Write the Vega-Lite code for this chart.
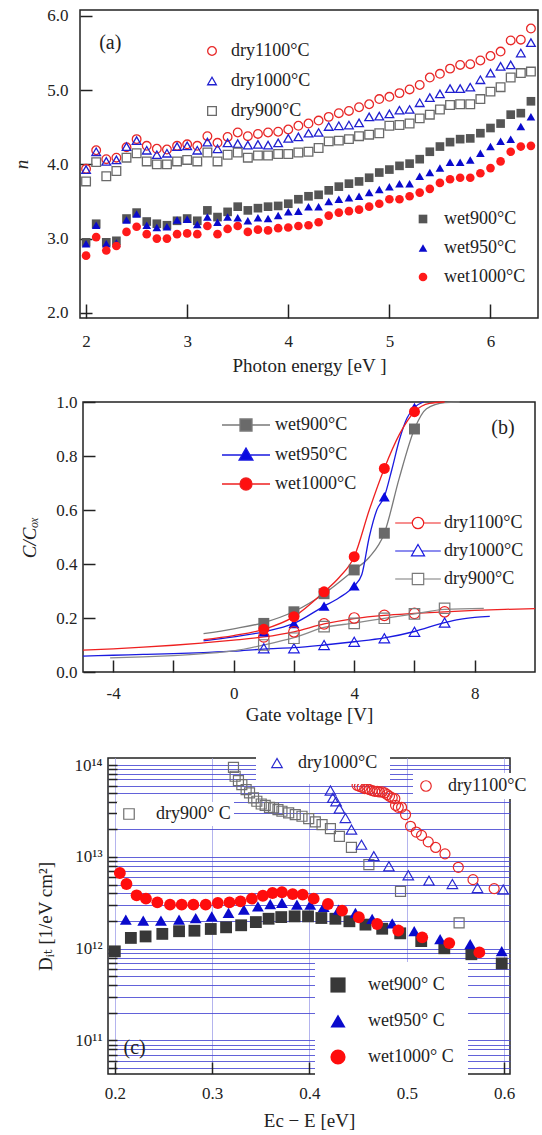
{
"$schema": "https://vega.github.io/schema/vega-lite/v6.json",
"padding": {"left": 0, "top": 6, "right": 0, "bottom": 0},
"columns": 1,
"align": "none",
"spacing": 16,
"config": {
 "font": "Liberation Serif, Times New Roman, DejaVu Serif, serif",
 "view": {"stroke": "#222222", "strokeWidth": 1.5},
 "axis": {"domain": false, "grid": false, "tickColor": "#222222", "tickWidth": 1.5, "labelColor": "#222222", "titleColor": "#222222", "labelFontSize": 17, "titleFontSize": 19, "titleFontWeight": "normal", "labelFont": "Liberation Serif, Times New Roman, DejaVu Serif, serif", "titleFont": "Liberation Serif, Times New Roman, DejaVu Serif, serif", "labelFlush": false, "labelOverlap": false},
 "legend": {"labelFont": "Liberation Serif, Times New Roman, DejaVu Serif, serif", "labelColor": "#222222", "labelFontSize": 18, "padding": 0},
 "text": {"font": "Liberation Serif, Times New Roman, DejaVu Serif, serif"}
},
"datasets": {
"a": [
{"s":"dry1100","x":2.0,"y":3.94},{"s":"dry1100","x":2.1,"y":4.19},{"s":"dry1100","x":2.2,"y":4.07},{"s":"dry1100","x":2.3,"y":4.09},{"s":"dry1100","x":2.4,"y":4.23},{"s":"dry1100","x":2.5,"y":4.34},{"s":"dry1100","x":2.6,"y":4.25},{"s":"dry1100","x":2.7,"y":4.21},{"s":"dry1100","x":2.8,"y":4.20},{"s":"dry1100","x":2.9,"y":4.25},{"s":"dry1100","x":3.0,"y":4.27},{"s":"dry1100","x":3.1,"y":4.25},{"s":"dry1100","x":3.2,"y":4.38},{"s":"dry1100","x":3.3,"y":4.29},{"s":"dry1100","x":3.4,"y":4.37},{"s":"dry1100","x":3.5,"y":4.43},{"s":"dry1100","x":3.6,"y":4.38},{"s":"dry1100","x":3.7,"y":4.41},{"s":"dry1100","x":3.8,"y":4.43},{"s":"dry1100","x":3.9,"y":4.44},{"s":"dry1100","x":4.0,"y":4.47},{"s":"dry1100","x":4.1,"y":4.52},{"s":"dry1100","x":4.2,"y":4.55},{"s":"dry1100","x":4.3,"y":4.59},{"s":"dry1100","x":4.4,"y":4.64},{"s":"dry1100","x":4.5,"y":4.69},{"s":"dry1100","x":4.6,"y":4.72},{"s":"dry1100","x":4.7,"y":4.77},{"s":"dry1100","x":4.8,"y":4.81},{"s":"dry1100","x":4.9,"y":4.88},{"s":"dry1100","x":5.0,"y":4.91},{"s":"dry1100","x":5.1,"y":4.96},{"s":"dry1100","x":5.2,"y":5.01},{"s":"dry1100","x":5.3,"y":5.07},{"s":"dry1100","x":5.4,"y":5.17},{"s":"dry1100","x":5.5,"y":5.22},{"s":"dry1100","x":5.6,"y":5.29},{"s":"dry1100","x":5.7,"y":5.34},{"s":"dry1100","x":5.8,"y":5.35},{"s":"dry1100","x":5.9,"y":5.40},{"s":"dry1100","x":6.0,"y":5.46},{"s":"dry1100","x":6.1,"y":5.52},{"s":"dry1100","x":6.2,"y":5.67},{"s":"dry1100","x":6.3,"y":5.68},{"s":"dry1100","x":6.4,"y":5.83},
{"s":"dry1000","x":2.0,"y":3.93},{"s":"dry1000","x":2.1,"y":4.17},{"s":"dry1000","x":2.2,"y":4.04},{"s":"dry1000","x":2.3,"y":4.06},{"s":"dry1000","x":2.4,"y":4.24},{"s":"dry1000","x":2.5,"y":4.32},{"s":"dry1000","x":2.6,"y":4.19},{"s":"dry1000","x":2.7,"y":4.13},{"s":"dry1000","x":2.8,"y":4.15},{"s":"dry1000","x":2.9,"y":4.24},{"s":"dry1000","x":3.0,"y":4.25},{"s":"dry1000","x":3.1,"y":4.19},{"s":"dry1000","x":3.2,"y":4.30},{"s":"dry1000","x":3.3,"y":4.21},{"s":"dry1000","x":3.4,"y":4.29},{"s":"dry1000","x":3.5,"y":4.28},{"s":"dry1000","x":3.6,"y":4.26},{"s":"dry1000","x":3.7,"y":4.27},{"s":"dry1000","x":3.8,"y":4.26},{"s":"dry1000","x":3.9,"y":4.29},{"s":"dry1000","x":4.0,"y":4.35},{"s":"dry1000","x":4.1,"y":4.37},{"s":"dry1000","x":4.2,"y":4.42},{"s":"dry1000","x":4.3,"y":4.43},{"s":"dry1000","x":4.4,"y":4.51},{"s":"dry1000","x":4.5,"y":4.52},{"s":"dry1000","x":4.6,"y":4.53},{"s":"dry1000","x":4.7,"y":4.56},{"s":"dry1000","x":4.8,"y":4.64},{"s":"dry1000","x":4.9,"y":4.65},{"s":"dry1000","x":5.0,"y":4.68},{"s":"dry1000","x":5.1,"y":4.73},{"s":"dry1000","x":5.2,"y":4.74},{"s":"dry1000","x":5.3,"y":4.83},{"s":"dry1000","x":5.4,"y":4.90},{"s":"dry1000","x":5.5,"y":4.95},{"s":"dry1000","x":5.6,"y":5.02},{"s":"dry1000","x":5.7,"y":5.02},{"s":"dry1000","x":5.8,"y":5.04},{"s":"dry1000","x":5.9,"y":5.14},{"s":"dry1000","x":6.0,"y":5.23},{"s":"dry1000","x":6.1,"y":5.32},{"s":"dry1000","x":6.2,"y":5.34},{"s":"dry1000","x":6.3,"y":5.50},{"s":"dry1000","x":6.4,"y":5.64},
{"s":"dry900","x":2.0,"y":3.77},{"s":"dry900","x":2.1,"y":4.03},{"s":"dry900","x":2.2,"y":3.84},{"s":"dry900","x":2.3,"y":3.91},{"s":"dry900","x":2.4,"y":4.09},{"s":"dry900","x":2.5,"y":4.15},{"s":"dry900","x":2.6,"y":4.04},{"s":"dry900","x":2.7,"y":4.00},{"s":"dry900","x":2.8,"y":4.00},{"s":"dry900","x":2.9,"y":4.04},{"s":"dry900","x":3.0,"y":4.06},{"s":"dry900","x":3.1,"y":4.04},{"s":"dry900","x":3.2,"y":4.16},{"s":"dry900","x":3.3,"y":4.04},{"s":"dry900","x":3.4,"y":4.13},{"s":"dry900","x":3.5,"y":4.16},{"s":"dry900","x":3.6,"y":4.09},{"s":"dry900","x":3.7,"y":4.12},{"s":"dry900","x":3.8,"y":4.12},{"s":"dry900","x":3.9,"y":4.14},{"s":"dry900","x":4.0,"y":4.14},{"s":"dry900","x":4.1,"y":4.16},{"s":"dry900","x":4.2,"y":4.17},{"s":"dry900","x":4.3,"y":4.22},{"s":"dry900","x":4.4,"y":4.31},{"s":"dry900","x":4.5,"y":4.32},{"s":"dry900","x":4.6,"y":4.34},{"s":"dry900","x":4.7,"y":4.38},{"s":"dry900","x":4.8,"y":4.40},{"s":"dry900","x":4.9,"y":4.42},{"s":"dry900","x":5.0,"y":4.52},{"s":"dry900","x":5.1,"y":4.53},{"s":"dry900","x":5.2,"y":4.55},{"s":"dry900","x":5.3,"y":4.62},{"s":"dry900","x":5.4,"y":4.67},{"s":"dry900","x":5.5,"y":4.74},{"s":"dry900","x":5.6,"y":4.80},{"s":"dry900","x":5.7,"y":4.81},{"s":"dry900","x":5.8,"y":4.81},{"s":"dry900","x":5.9,"y":4.88},{"s":"dry900","x":6.0,"y":4.98},{"s":"dry900","x":6.1,"y":5.04},{"s":"dry900","x":6.2,"y":5.17},{"s":"dry900","x":6.3,"y":5.23},{"s":"dry900","x":6.4,"y":5.25},
{"s":"wet900","x":2.0,"y":2.95},{"s":"wet900","x":2.1,"y":3.20},{"s":"wet900","x":2.2,"y":2.95},{"s":"wet900","x":2.3,"y":2.97},{"s":"wet900","x":2.4,"y":3.27},{"s":"wet900","x":2.5,"y":3.35},{"s":"wet900","x":2.6,"y":3.23},{"s":"wet900","x":2.7,"y":3.20},{"s":"wet900","x":2.8,"y":3.18},{"s":"wet900","x":2.9,"y":3.24},{"s":"wet900","x":3.0,"y":3.27},{"s":"wet900","x":3.1,"y":3.24},{"s":"wet900","x":3.2,"y":3.38},{"s":"wet900","x":3.3,"y":3.29},{"s":"wet900","x":3.4,"y":3.36},{"s":"wet900","x":3.5,"y":3.43},{"s":"wet900","x":3.6,"y":3.38},{"s":"wet900","x":3.7,"y":3.41},{"s":"wet900","x":3.8,"y":3.43},{"s":"wet900","x":3.9,"y":3.44},{"s":"wet900","x":4.0,"y":3.47},{"s":"wet900","x":4.1,"y":3.53},{"s":"wet900","x":4.2,"y":3.57},{"s":"wet900","x":4.3,"y":3.59},{"s":"wet900","x":4.4,"y":3.65},{"s":"wet900","x":4.5,"y":3.70},{"s":"wet900","x":4.6,"y":3.74},{"s":"wet900","x":4.7,"y":3.77},{"s":"wet900","x":4.8,"y":3.82},{"s":"wet900","x":4.9,"y":3.89},{"s":"wet900","x":5.0,"y":3.93},{"s":"wet900","x":5.1,"y":3.98},{"s":"wet900","x":5.2,"y":4.01},{"s":"wet900","x":5.3,"y":4.07},{"s":"wet900","x":5.4,"y":4.17},{"s":"wet900","x":5.5,"y":4.24},{"s":"wet900","x":5.6,"y":4.30},{"s":"wet900","x":5.7,"y":4.34},{"s":"wet900","x":5.8,"y":4.35},{"s":"wet900","x":5.9,"y":4.42},{"s":"wet900","x":6.0,"y":4.49},{"s":"wet900","x":6.1,"y":4.55},{"s":"wet900","x":6.2,"y":4.67},{"s":"wet900","x":6.3,"y":4.69},{"s":"wet900","x":6.4,"y":4.85},
{"s":"wet950","x":2.0,"y":2.93},{"s":"wet950","x":2.1,"y":3.18},{"s":"wet950","x":2.2,"y":2.93},{"s":"wet950","x":2.3,"y":2.94},{"s":"wet950","x":2.4,"y":3.25},{"s":"wet950","x":2.5,"y":3.33},{"s":"wet950","x":2.6,"y":3.18},{"s":"wet950","x":2.7,"y":3.15},{"s":"wet950","x":2.8,"y":3.16},{"s":"wet950","x":2.9,"y":3.25},{"s":"wet950","x":3.0,"y":3.26},{"s":"wet950","x":3.1,"y":3.19},{"s":"wet950","x":3.2,"y":3.29},{"s":"wet950","x":3.3,"y":3.22},{"s":"wet950","x":3.4,"y":3.29},{"s":"wet950","x":3.5,"y":3.28},{"s":"wet950","x":3.6,"y":3.24},{"s":"wet950","x":3.7,"y":3.28},{"s":"wet950","x":3.8,"y":3.27},{"s":"wet950","x":3.9,"y":3.31},{"s":"wet950","x":4.0,"y":3.36},{"s":"wet950","x":4.1,"y":3.37},{"s":"wet950","x":4.2,"y":3.43},{"s":"wet950","x":4.3,"y":3.43},{"s":"wet950","x":4.4,"y":3.50},{"s":"wet950","x":4.5,"y":3.53},{"s":"wet950","x":4.6,"y":3.55},{"s":"wet950","x":4.7,"y":3.57},{"s":"wet950","x":4.8,"y":3.62},{"s":"wet950","x":4.9,"y":3.66},{"s":"wet950","x":5.0,"y":3.70},{"s":"wet950","x":5.1,"y":3.74},{"s":"wet950","x":5.2,"y":3.74},{"s":"wet950","x":5.3,"y":3.84},{"s":"wet950","x":5.4,"y":3.89},{"s":"wet950","x":5.5,"y":3.95},{"s":"wet950","x":5.6,"y":4.03},{"s":"wet950","x":5.7,"y":4.03},{"s":"wet950","x":5.8,"y":4.06},{"s":"wet950","x":5.9,"y":4.15},{"s":"wet950","x":6.0,"y":4.24},{"s":"wet950","x":6.1,"y":4.31},{"s":"wet950","x":6.2,"y":4.34},{"s":"wet950","x":6.3,"y":4.51},{"s":"wet950","x":6.4,"y":4.64},
{"s":"wet1000","x":2.0,"y":2.77},{"s":"wet1000","x":2.1,"y":3.02},{"s":"wet1000","x":2.2,"y":2.84},{"s":"wet1000","x":2.3,"y":2.90},{"s":"wet1000","x":2.4,"y":3.09},{"s":"wet1000","x":2.5,"y":3.16},{"s":"wet1000","x":2.6,"y":3.06},{"s":"wet1000","x":2.7,"y":3.00},{"s":"wet1000","x":2.8,"y":3.00},{"s":"wet1000","x":2.9,"y":3.06},{"s":"wet1000","x":3.0,"y":3.07},{"s":"wet1000","x":3.1,"y":3.06},{"s":"wet1000","x":3.2,"y":3.17},{"s":"wet1000","x":3.3,"y":3.06},{"s":"wet1000","x":3.4,"y":3.13},{"s":"wet1000","x":3.5,"y":3.17},{"s":"wet1000","x":3.6,"y":3.09},{"s":"wet1000","x":3.7,"y":3.12},{"s":"wet1000","x":3.8,"y":3.11},{"s":"wet1000","x":3.9,"y":3.14},{"s":"wet1000","x":4.0,"y":3.15},{"s":"wet1000","x":4.1,"y":3.17},{"s":"wet1000","x":4.2,"y":3.18},{"s":"wet1000","x":4.3,"y":3.22},{"s":"wet1000","x":4.4,"y":3.31},{"s":"wet1000","x":4.5,"y":3.35},{"s":"wet1000","x":4.6,"y":3.37},{"s":"wet1000","x":4.7,"y":3.39},{"s":"wet1000","x":4.8,"y":3.43},{"s":"wet1000","x":4.9,"y":3.47},{"s":"wet1000","x":5.0,"y":3.53},{"s":"wet1000","x":5.1,"y":3.53},{"s":"wet1000","x":5.2,"y":3.57},{"s":"wet1000","x":5.3,"y":3.62},{"s":"wet1000","x":5.4,"y":3.67},{"s":"wet1000","x":5.5,"y":3.75},{"s":"wet1000","x":5.6,"y":3.80},{"s":"wet1000","x":5.7,"y":3.82},{"s":"wet1000","x":5.8,"y":3.82},{"s":"wet1000","x":5.9,"y":3.88},{"s":"wet1000","x":6.0,"y":3.95},{"s":"wet1000","x":6.1,"y":4.04},{"s":"wet1000","x":6.2,"y":4.17},{"s":"wet1000","x":6.3,"y":4.24},{"s":"wet1000","x":6.4,"y":4.25}
],
"bpts": [
{"s":"wet900","x":1,"y":0.18},{"s":"wet900","x":2,"y":0.223},{"s":"wet900","x":3,"y":0.29},{"s":"wet900","x":4,"y":0.378},{"s":"wet900","x":5,"y":0.514},{"s":"wet900","x":6,"y":0.90},
{"s":"wet950","x":1,"y":0.149},{"s":"wet950","x":2,"y":0.18},{"s":"wet950","x":3,"y":0.244},{"s":"wet950","x":4,"y":0.319},{"s":"wet950","x":5,"y":0.649},{"s":"wet950","x":6,"y":0.98},
{"s":"wet1000","x":1,"y":0.158},{"s":"wet1000","x":2,"y":0.205},{"s":"wet1000","x":3,"y":0.297},{"s":"wet1000","x":4,"y":0.427},{"s":"wet1000","x":5,"y":0.754},{"s":"wet1000","x":6,"y":0.964},
{"s":"dry1100","x":1,"y":0.13},{"s":"dry1100","x":2,"y":0.149},{"s":"dry1100","x":3,"y":0.178},{"s":"dry1100","x":4,"y":0.20},{"s":"dry1100","x":5,"y":0.21},{"s":"dry1100","x":6,"y":0.217},{"s":"dry1100","x":7,"y":0.223},
{"s":"dry1000","x":1,"y":0.088},{"s":"dry1000","x":2,"y":0.088},{"s":"dry1000","x":3,"y":0.10},{"s":"dry1000","x":4,"y":0.112},{"s":"dry1000","x":5,"y":0.125},{"s":"dry1000","x":6,"y":0.149},{"s":"dry1000","x":7,"y":0.183},
{"s":"dry900","x":1,"y":0.10},{"s":"dry900","x":2,"y":0.125},{"s":"dry900","x":3,"y":0.168},{"s":"dry900","x":4,"y":0.18},{"s":"dry900","x":5,"y":0.199},{"s":"dry900","x":6,"y":0.215},{"s":"dry900","x":7,"y":0.236}
],
"bcurve": [
{"s":"dry1100","x":-5,"y":0.081},{"s":"dry1100","x":-4,"y":0.086},{"s":"dry1100","x":-3,"y":0.092},{"s":"dry1100","x":-2,"y":0.099},{"s":"dry1100","x":-1,"y":0.108},{"s":"dry1100","x":0,"y":0.118},{"s":"dry1100","x":1,"y":0.13},{"s":"dry1100","x":2,"y":0.149},{"s":"dry1100","x":3,"y":0.178},{"s":"dry1100","x":4,"y":0.198},{"s":"dry1100","x":5,"y":0.21},{"s":"dry1100","x":6,"y":0.217},{"s":"dry1100","x":7,"y":0.223},{"s":"dry1100","x":8,"y":0.228},{"s":"dry1100","x":9,"y":0.232},{"s":"dry1100","x":10,"y":0.235},
{"s":"dry1000","x":-5,"y":0.059},{"s":"dry1000","x":-4,"y":0.062},{"s":"dry1000","x":-3,"y":0.065},{"s":"dry1000","x":-2,"y":0.068},{"s":"dry1000","x":-1,"y":0.072},{"s":"dry1000","x":0,"y":0.077},{"s":"dry1000","x":1,"y":0.085},{"s":"dry1000","x":2,"y":0.09},{"s":"dry1000","x":3,"y":0.10},{"s":"dry1000","x":4,"y":0.112},{"s":"dry1000","x":5,"y":0.126},{"s":"dry1000","x":6,"y":0.15},{"s":"dry1000","x":7,"y":0.183},{"s":"dry1000","x":7.5,"y":0.195},{"s":"dry1000","x":8,"y":0.202},{"s":"dry1000","x":8.5,"y":0.206},
{"s":"dry900","x":-4.1,"y":0.052},{"s":"dry900","x":-3,"y":0.056},{"s":"dry900","x":-2,"y":0.061},{"s":"dry900","x":-1,"y":0.068},{"s":"dry900","x":0,"y":0.078},{"s":"dry900","x":1,"y":0.10},{"s":"dry900","x":2,"y":0.127},{"s":"dry900","x":3,"y":0.165},{"s":"dry900","x":4,"y":0.181},{"s":"dry900","x":5,"y":0.199},{"s":"dry900","x":6,"y":0.215},{"s":"dry900","x":7,"y":0.232},{"s":"dry900","x":8.3,"y":0.236},
{"s":"wet900","x":-1,"y":0.142},{"s":"wet900","x":0,"y":0.16},{"s":"wet900","x":1,"y":0.183},{"s":"wet900","x":2,"y":0.224},{"s":"wet900","x":3,"y":0.29},{"s":"wet900","x":4,"y":0.378},{"s":"wet900","x":4.5,"y":0.425},{"s":"wet900","x":5,"y":0.514},{"s":"wet900","x":5.5,"y":0.72},{"s":"wet900","x":6,"y":0.90},{"s":"wet900","x":6.4,"y":0.975},{"s":"wet900","x":7,"y":0.998},{"s":"wet900","x":7.5,"y":1.0},
{"s":"wet950","x":-1,"y":0.115},{"s":"wet950","x":0,"y":0.13},{"s":"wet950","x":1,"y":0.149},{"s":"wet950","x":2,"y":0.18},{"s":"wet950","x":3,"y":0.244},{"s":"wet950","x":3.5,"y":0.275},{"s":"wet950","x":4,"y":0.319},{"s":"wet950","x":4.25,"y":0.36},{"s":"wet950","x":4.5,"y":0.5},{"s":"wet950","x":4.75,"y":0.6},{"s":"wet950","x":5,"y":0.649},{"s":"wet950","x":5.25,"y":0.75},{"s":"wet950","x":5.5,"y":0.86},{"s":"wet950","x":5.75,"y":0.94},{"s":"wet950","x":6,"y":0.98},{"s":"wet950","x":6.3,"y":1.0},
{"s":"wet1000","x":-1,"y":0.12},{"s":"wet1000","x":0,"y":0.135},{"s":"wet1000","x":1,"y":0.158},{"s":"wet1000","x":2,"y":0.205},{"s":"wet1000","x":3,"y":0.297},{"s":"wet1000","x":3.5,"y":0.35},{"s":"wet1000","x":4,"y":0.427},{"s":"wet1000","x":4.5,"y":0.6},{"s":"wet1000","x":5,"y":0.754},{"s":"wet1000","x":5.5,"y":0.88},{"s":"wet1000","x":6,"y":0.964},{"s":"wet1000","x":6.5,"y":0.995},{"s":"wet1000","x":7,"y":1.0}
],
"c": [
{"s":"wet900","x":0.2,"y":9.35e11},{"s":"wet900","x":0.2165,"y":1.31e12},{"s":"wet900","x":0.2316,"y":1.36e12},{"s":"wet900","x":0.2488,"y":1.45e12},{"s":"wet900","x":0.266,"y":1.55e12},{"s":"wet900","x":0.2818,"y":1.57e12},{"s":"wet900","x":0.2986,"y":1.64e12},{"s":"wet900","x":0.3143,"y":1.71e12},{"s":"wet900","x":0.3298,"y":1.80e12},{"s":"wet900","x":0.3449,"y":1.95e12},{"s":"wet900","x":0.358,"y":2.12e12},{"s":"wet900","x":0.371,"y":2.21e12},{"s":"wet900","x":0.3847,"y":2.25e12},{"s":"wet900","x":0.3985,"y":2.25e12},{"s":"wet900","x":0.4122,"y":2.16e12},{"s":"wet900","x":0.4266,"y":2.12e12},{"s":"wet900","x":0.441,"y":1.99e12},{"s":"wet900","x":0.4575,"y":1.83e12},{"s":"wet900","x":0.4747,"y":1.65e12},{"s":"wet900","x":0.4932,"y":1.47e12},{"s":"wet900","x":0.5148,"y":1.21e12},{"s":"wet900","x":0.5385,"y":1.01e12},{"s":"wet900","x":0.5663,"y":8.7e11},{"s":"wet900","x":0.5975,"y":6.9e11},
{"s":"wet950","x":0.2113,"y":2.07e12},{"s":"wet950","x":0.2292,"y":2.02e12},{"s":"wet950","x":0.2474,"y":2.02e12},{"s":"wet950","x":0.266,"y":2.07e12},{"s":"wet950","x":0.2831,"y":2.16e12},{"s":"wet950","x":0.2996,"y":2.25e12},{"s":"wet950","x":0.3168,"y":2.45e12},{"s":"wet950","x":0.3326,"y":2.66e12},{"s":"wet950","x":0.347,"y":2.90e12},{"s":"wet950","x":0.3597,"y":3.07e12},{"s":"wet950","x":0.3717,"y":3.15e12},{"s":"wet950","x":0.3871,"y":3.02e12},{"s":"wet950","x":0.4008,"y":3.02e12},{"s":"wet950","x":0.4146,"y":2.85e12},{"s":"wet950","x":0.43,"y":2.66e12},{"s":"wet950","x":0.4472,"y":2.45e12},{"s":"wet950","x":0.4644,"y":2.11e12},{"s":"wet950","x":0.485,"y":1.89e12},{"s":"wet950","x":0.5076,"y":1.55e12},{"s":"wet950","x":0.5342,"y":1.27e12},{"s":"wet950","x":0.5651,"y":1.12e12},{"s":"wet950","x":0.5975,"y":9.4e11},
{"s":"wet1000","x":0.2052,"y":6.68e12},{"s":"wet1000","x":0.212,"y":5.07e12},{"s":"wet1000","x":0.2224,"y":3.82e12},{"s":"wet1000","x":0.232,"y":3.51e12},{"s":"wet1000","x":0.2437,"y":3.20e12},{"s":"wet1000","x":0.2567,"y":3.02e12},{"s":"wet1000","x":0.2687,"y":3.02e12},{"s":"wet1000","x":0.2807,"y":3.02e12},{"s":"wet1000","x":0.2934,"y":3.02e12},{"s":"wet1000","x":0.3058,"y":3.15e12},{"s":"wet1000","x":0.3178,"y":3.20e12},{"s":"wet1000","x":0.3291,"y":3.28e12},{"s":"wet1000","x":0.3408,"y":3.51e12},{"s":"wet1000","x":0.3521,"y":3.78e12},{"s":"wet1000","x":0.362,"y":4.05e12},{"s":"wet1000","x":0.3717,"y":4.12e12},{"s":"wet1000","x":0.3827,"y":3.94e12},{"s":"wet1000","x":0.393,"y":3.88e12},{"s":"wet1000","x":0.4043,"y":3.51e12},{"s":"wet1000","x":0.419,"y":3.07e12},{"s":"wet1000","x":0.4335,"y":2.60e12},{"s":"wet1000","x":0.4507,"y":2.20e12},{"s":"wet1000","x":0.4695,"y":1.86e12},{"s":"wet1000","x":0.4912,"y":1.58e12},{"s":"wet1000","x":0.5158,"y":1.33e12},{"s":"wet1000","x":0.5436,"y":1.15e12},{"s":"wet1000","x":0.5745,"y":9.1e11},
{"s":"dry900","x":0.3219,"y":9.5e13},{"s":"dry900","x":0.3236,"y":7.59e13},{"s":"dry900","x":0.327,"y":6.81e13},{"s":"dry900","x":0.3305,"y":6.15e13},{"s":"dry900","x":0.3349,"y":5.43e13},{"s":"dry900","x":0.3384,"y":4.99e13},{"s":"dry900","x":0.3425,"y":4.41e13},{"s":"dry900","x":0.3459,"y":4.05e13},{"s":"dry900","x":0.3504,"y":3.78e13},{"s":"dry900","x":0.3545,"y":3.66e13},{"s":"dry900","x":0.3589,"y":3.48e13},{"s":"dry900","x":0.3631,"y":3.43e13},{"s":"dry900","x":0.3676,"y":3.28e13},{"s":"dry900","x":0.3717,"y":3.15e13},{"s":"dry900","x":0.3786,"y":3.02e13},{"s":"dry900","x":0.3854,"y":2.90e13},{"s":"dry900","x":0.3923,"y":2.78e13},{"s":"dry900","x":0.3992,"y":2.62e13},{"s":"dry900","x":0.406,"y":2.41e13},{"s":"dry900","x":0.4129,"y":2.25e13},{"s":"dry900","x":0.4215,"y":2.04e13},{"s":"dry900","x":0.4307,"y":1.68e13},{"s":"dry900","x":0.4431,"y":1.27e13},{"s":"dry900","x":0.461,"y":8.24e12},{"s":"dry900","x":0.4935,"y":4.22e12},{"s":"dry900","x":0.5537,"y":1.91e12},
{"s":"dry1000","x":0.4215,"y":5.30e13},{"s":"dry1000","x":0.4239,"y":4.41e13},{"s":"dry1000","x":0.4273,"y":4.05e13},{"s":"dry1000","x":0.4307,"y":3.37e13},{"s":"dry1000","x":0.4369,"y":2.66e13},{"s":"dry1000","x":0.4431,"y":1.99e13},{"s":"dry1000","x":0.4534,"y":1.36e13},{"s":"dry1000","x":0.4661,"y":1.02e13},{"s":"dry1000","x":0.4816,"y":7.91e12},{"s":"dry1000","x":0.5015,"y":6.31e12},{"s":"dry1000","x":0.5228,"y":5.52e12},{"s":"dry1000","x":0.5468,"y":5.07e12},{"s":"dry1000","x":0.5726,"y":4.59e12},{"s":"dry1000","x":0.599,"y":4.41e12},
{"s":"dry1100","x":0.4489,"y":6.05e13},{"s":"dry1100","x":0.4513,"y":5.90e13},{"s":"dry1100","x":0.4541,"y":5.75e13},{"s":"dry1100","x":0.4568,"y":5.56e13},{"s":"dry1100","x":0.4592,"y":5.56e13},{"s":"dry1100","x":0.4616,"y":5.43e13},{"s":"dry1100","x":0.4644,"y":5.30e13},{"s":"dry1100","x":0.4671,"y":5.20e13},{"s":"dry1100","x":0.4695,"y":5.20e13},{"s":"dry1100","x":0.4719,"y":5.12e13},{"s":"dry1100","x":0.4747,"y":5.12e13},{"s":"dry1100","x":0.4774,"y":4.99e13},{"s":"dry1100","x":0.4798,"y":4.79e13},{"s":"dry1100","x":0.4822,"y":4.59e13},{"s":"dry1100","x":0.485,"y":4.41e13},{"s":"dry1100","x":0.4877,"y":4.33e13},{"s":"dry1100","x":0.4884,"y":3.66e13},{"s":"dry1100","x":0.4912,"y":3.48e13},{"s":"dry1100","x":0.4946,"y":3.48e13},{"s":"dry1100","x":0.4987,"y":2.90e13},{"s":"dry1100","x":0.5038,"y":2.16e13},{"s":"dry1100","x":0.5097,"y":1.87e13},{"s":"dry1100","x":0.5151,"y":1.72e13},{"s":"dry1100","x":0.522,"y":1.46e13},{"s":"dry1100","x":0.5296,"y":1.27e13},{"s":"dry1100","x":0.5392,"y":1.08e13},{"s":"dry1100","x":0.5529,"y":7.71e12},{"s":"dry1100","x":0.568,"y":5.66e12},{"s":"dry1100","x":0.5897,"y":4.52e12}
]
},
"concat": [
{"spacing": 0, "hconcat": [
{"width": 12, "height": 10, "data": {"values": [{}]}, "mark": {"type": "point", "opacity": 0}, "encoding": {}, "view": {"stroke": null}},
{
 "width": 458, "height": 308,
 "layer": [
  {
   "data": {"name": "a"},
   "transform": [{"filter": "indexof(datum.s, 'dry') == 0"}],
   "mark": {"type": "point", "filled": false, "size": 75, "strokeWidth": 1.3, "opacity": 1},
   "encoding": {
    "x": {"field": "x", "type": "quantitative", "scale": {"domain": [1.94, 6.47], "nice": false, "zero": false},
          "axis": {"values": [2,3,4,5,6], "labelExpr": "'' + datum.value", "title": "Photon energy [eV ]", "tickSize": -14, "labelPadding": 29, "titlePadding": 7}},
    "y": {"field": "y", "type": "quantitative", "scale": {"domain": [1.93, 6.08], "nice": false, "zero": false},
          "axis": {"values": [2,2.5,3,3.5,4,4.5,5,5.5,6], "labelExpr": "datum.value % 1 == 0 ? format(datum.value, '.1f') : ''", "title": "n", "titleFontStyle": "italic", "tickSize": -12, "labelPadding": 24, "titlePadding": 15}},
    "color": {"field": "s", "type": "nominal", "scale": {"domain": ["dry1100","dry1000","dry900"], "range": ["#e82828","#2020d0","#6a6a6a"]},
          "legend": {"orient": "none", "legendX": 123, "legendY": 32, "title": null, "rowPadding": 12, "labelOffset": 10, "symbolSize": 75, "symbolStrokeWidth": 1.3, "labelExpr": "datum.label + '°C'"}},
    "shape": {"field": "s", "type": "nominal", "scale": {"domain": ["dry1100","dry1000","dry900"], "range": ["circle","triangle-up","square"]},
          "legend": {"orient": "none", "legendX": 123, "legendY": 32, "title": null, "rowPadding": 12, "labelOffset": 10, "symbolSize": 75, "symbolStrokeWidth": 1.3, "labelExpr": "datum.label + '°C'"}}
   }
  },
  {
   "data": {"name": "a"},
   "transform": [{"filter": "indexof(datum.s, 'wet') == 0"}],
   "mark": {"type": "point", "filled": true, "size": 75, "opacity": 1},
   "encoding": {
    "x": {"field": "x", "type": "quantitative"},
    "y": {"field": "y", "type": "quantitative"},
    "color": {"field": "s", "type": "nominal", "scale": {"domain": ["wet900","wet950","wet1000"], "range": ["#555555","#0a0acc","#ff1a1a"]},
          "legend": {"orient": "none", "legendX": 334, "legendY": 200, "title": null, "rowPadding": 11, "labelOffset": 12, "symbolSize": 75, "labelExpr": "datum.label + '°C'"}},
    "shape": {"field": "s", "type": "nominal", "scale": {"domain": ["wet900","wet950","wet1000"], "range": ["square","triangle-up","circle"]},
          "legend": {"orient": "none", "legendX": 334, "legendY": 200, "title": null, "rowPadding": 11, "labelOffset": 12, "symbolSize": 75, "labelExpr": "datum.label + '°C'"}}
   }
  },
  {
   "data": {"values": [{}]},
   "mark": {"type": "text", "fontSize": 20, "align": "left", "baseline": "middle", "color": "#222222"},
   "encoding": {"x": {"datum": 2.13}, "y": {"datum": 5.64}, "text": {"value": "(a)"}}
  }
 ],
 "resolve": {"scale": {"color": "independent", "shape": "independent"}}
}
]},
{"spacing": 0, "hconcat": [
{"width": 20, "height": 10, "data": {"values": [{}]}, "mark": {"type": "point", "opacity": 0}, "encoding": {}, "view": {"stroke": null}},
{
 "width": 452, "height": 270,
 "layer": [
  {
   "data": {"name": "bcurve"},
   "mark": {"type": "line", "interpolate": "monotone", "strokeWidth": 1.3},
   "encoding": {
    "x": {"field": "x", "type": "quantitative", "scale": {"domain": [-5, 10], "nice": false, "zero": false},
          "axis": {"values": [-4,-2,0,2,4,6,8], "labelExpr": "datum.value % 4 == 0 ? '' + datum.value : ''", "title": "Gate voltage [V]", "tickSize": -12, "labelPadding": 25, "titlePadding": 4}},
    "y": {"field": "y", "type": "quantitative", "scale": {"domain": [0, 1], "nice": false},
          "axis": {"values": [0,0.2,0.4,0.6,0.8,1.0], "labelExpr": "format(datum.value, '.1f')", "title": "C/Cₒₓ", "titleFontStyle": "italic", "tickSize": -12, "labelPadding": 18, "titlePadding": 16}},
    "color": {"field": "s", "type": "nominal", "scale": {"domain": ["wet900","wet950","wet1000","dry1100","dry1000","dry900"], "range": ["#7a7a7a","#1a1ae0","#ee2020","#ee2020","#1a1ae0","#8a8a8a"]}, "legend": null},
    "detail": {"field": "s"}
   }
  },
  {
   "data": {"name": "bpts"},
   "transform": [{"filter": "indexof(datum.s, 'wet') == 0"}],
   "mark": {"type": "point", "filled": true, "size": 120, "opacity": 1},
   "encoding": {
    "x": {"field": "x", "type": "quantitative"},
    "y": {"field": "y", "type": "quantitative"},
    "color": {"field": "s", "type": "nominal", "scale": {"domain": ["wet900","wet950","wet1000"], "range": ["#6a6a6a","#0a0ae0","#ff1010"]}, "legend": null},
    "shape": {"field": "s", "type": "nominal", "scale": {"domain": ["wet900","wet950","wet1000"], "range": ["square","triangle-up","circle"]}, "legend": null}
   }
  },
  {
   "data": {"name": "bpts"},
   "transform": [{"filter": "indexof(datum.s, 'dry') == 0"}],
   "mark": {"type": "point", "filled": false, "size": 110, "strokeWidth": 1.2, "opacity": 1},
   "encoding": {
    "x": {"field": "x", "type": "quantitative"},
    "y": {"field": "y", "type": "quantitative"},
    "color": {"field": "s", "type": "nominal", "scale": {"domain": ["dry1100","dry1000","dry900"], "range": ["#ee2020","#1a1ae0","#7a7a7a"]}, "legend": null},
    "shape": {"field": "s", "type": "nominal", "scale": {"domain": ["dry1100","dry1000","dry900"], "range": ["circle","triangle-up","square"]}, "legend": null}
   }
  },
  {
   "data": {"name": "bpts"},
   "transform": [{"filter": "false"}],
   "mark": {"type": "point", "filled": true, "size": 144, "opacity": 1},
   "encoding": {
    "x": {"field": "x", "type": "quantitative"},
    "y": {"field": "y", "type": "quantitative"},
    "fill": {"field": "s", "type": "nominal", "scale": {"domain": ["wet900","wet950","wet1000"], "range": ["#6a6a6a","#0a0ae0","#ff1010"]},
       "legend": {"orient": "none", "legendX": 154, "legendY": 14, "title": null, "rowPadding": 11, "labelOffset": 20, "symbolSize": 144, "symbolStrokeWidth": 1.3, "labelExpr": "datum.label + '°C'"}},
    "stroke": {"field": "s", "type": "nominal", "scale": {"domain": ["wet900","wet950","wet1000"], "range": ["#7a7a7a","#1a1ae0","#ee2020"]},
       "legend": {"orient": "none", "legendX": 154, "legendY": 14, "title": null, "rowPadding": 11, "labelOffset": 20, "symbolSize": 144, "symbolStrokeWidth": 1.3, "labelExpr": "datum.label + '°C'"}},
    "shape": {"field": "s", "type": "nominal", "scale": {"domain": ["wet900","wet950","wet1000"], "range": ["M-4,0H-1M1,0H4M-1,-1H1V1H-1Z","M-4,0H-0.7M0.7,0H4M0,-1.15L1.15,0.85H-1.15Z","M-4,0H-1M1,0H4M-1,0A1,1 0 1,0 1,0A1,1 0 1,0 -1,0Z"]},
       "legend": {"orient": "none", "legendX": 154, "legendY": 14, "title": null, "rowPadding": 11, "labelOffset": 20, "symbolSize": 144, "symbolStrokeWidth": 1.3, "labelExpr": "datum.label + '°C'"}}
   }
  },
  {
   "data": {"name": "bpts"},
   "transform": [{"filter": "false"}],
   "mark": {"type": "point", "filled": false, "size": 130, "opacity": 1},
   "encoding": {
    "x": {"field": "x", "type": "quantitative"},
    "y": {"field": "y", "type": "quantitative"},
    "color": {"field": "s", "type": "nominal", "scale": {"domain": ["dry1100","dry1000","dry900"], "range": ["#ee2020","#1a1ae0","#7a7a7a"]},
       "legend": {"orient": "none", "legendX": 326, "legendY": 112, "title": null, "rowPadding": 10, "labelOffset": 17, "symbolSize": 130, "symbolStrokeWidth": 1.2, "labelExpr": "datum.label + '°C'"}},
    "shape": {"field": "s", "type": "nominal", "scale": {"domain": ["dry1100","dry1000","dry900"], "range": ["M-4,0H-1M1,0H4M-1,0A1,1 0 1,0 1,0A1,1 0 1,0 -1,0Z","M-4,0H-0.7M0.7,0H4M0,-1.15L1.15,0.85H-1.15Z","M-4,0H-1M1,0H4M-1,-1H1V1H-1Z"]},
       "legend": {"orient": "none", "legendX": 326, "legendY": 112, "title": null, "rowPadding": 10, "labelOffset": 17, "symbolSize": 130, "symbolStrokeWidth": 1.2, "labelExpr": "datum.label + '°C'"}}
   }
  },
  {
   "data": {"values": [{}]},
   "mark": {"type": "text", "fontSize": 20, "align": "left", "baseline": "middle", "color": "#222222"},
   "encoding": {"x": {"datum": 8.55}, "y": {"datum": 0.905}, "text": {"value": "(b)"}}
  }
 ],
 "resolve": {"scale": {"color": "independent", "shape": "independent", "fill": "independent", "stroke": "independent"}}
}
]},
{"spacing": 0, "hconcat": [
{"width": 36, "height": 10, "data": {"values": [{}]}, "mark": {"type": "point", "opacity": 0}, "encoding": {}, "view": {"stroke": null}},
{
 "width": 402, "height": 316,
 "layer": [
  {
   "data": {"name": "c"},
   "transform": [{"filter": "indexof(datum.s, 'wet') == 0"}],
   "mark": {"type": "point", "filled": true, "size": 140, "opacity": 1},
   "encoding": {
    "x": {"field": "x", "type": "quantitative", "scale": {"domain": [0.193, 0.606], "nice": false, "zero": false},
          "axis": {"values": [0.2,0.3,0.4,0.5,0.6], "labelExpr": "format(datum.value, '.1f')", "title": "Ec − E [eV]", "grid": true, "gridColor": "#b4b4ee", "gridWidth": 1, "tickSize": -12, "labelPadding": 23, "titlePadding": 10}},
    "y": {"field": "y", "type": "quantitative", "scale": {"type": "log", "domain": [4.3e10, 1.2e14], "nice": false},
          "axis": {"values": [5e10,6e10,7e10,8e10,9e10,1e11,2e11,3e11,4e11,5e11,6e11,7e11,8e11,9e11,1e12,2e12,3e12,4e12,5e12,6e12,7e12,8e12,9e12,1e13,2e13,3e13,4e13,5e13,6e13,7e13,8e13,9e13,1e14],
                   "labelExpr": "datum.value == 1e11 ? '10¹¹' : datum.value == 1e12 ? '10¹²' : datum.value == 1e13 ? '10¹³' : datum.value == 1e14 ? '10¹⁴' : ''",
                   "title": "Dᵢₜ [1/eV cm²]", "grid": true, "gridColor": "#4646d2", "gridOpacity": 0.85, "gridWidth": 1, "tickSize": -9, "labelPadding": 15, "titlePadding": 18}},
    "color": {"field": "s", "type": "nominal", "scale": {"domain": ["wet900","wet950","wet1000"], "range": ["#383838","#0a0acc","#ff0d0d"]},
          "legend": {"orient": "none", "legendX": 207, "legendY": 204, "title": null, "padding": 14, "fillColor": "white", "rowPadding": 18, "labelOffset": 21, "symbolSize": 230, "labelExpr": "datum.label + '° C'"}},
    "shape": {"field": "s", "type": "nominal", "scale": {"domain": ["wet900","wet950","wet1000"], "range": ["square","triangle-up","circle"]},
          "legend": {"orient": "none", "legendX": 207, "legendY": 204, "title": null, "padding": 14, "fillColor": "white", "rowPadding": 18, "labelOffset": 21, "symbolSize": 230, "labelExpr": "datum.label + '° C'"}}
   }
  },
  {
   "data": {"name": "c"},
   "transform": [{"filter": "datum.s == 'dry900'"}],
   "mark": {"type": "point", "filled": false, "size": 100, "strokeWidth": 1.2, "opacity": 1},
   "encoding": {
    "x": {"field": "x", "type": "quantitative"},
    "y": {"field": "y", "type": "quantitative"},
    "color": {"field": "s", "type": "nominal", "scale": {"domain": ["dry900"], "range": ["#707070"]},
          "legend": {"orient": "none", "legendX": 9, "legendY": 44, "title": null, "padding": 3, "fillColor": "white", "labelOffset": 18, "symbolSize": 110, "symbolStrokeWidth": 1.2, "labelExpr": "datum.label + '° C'"}},
    "shape": {"field": "s", "type": "nominal", "scale": {"domain": ["dry900"], "range": ["square"]},
          "legend": {"orient": "none", "legendX": 9, "legendY": 44, "title": null, "padding": 3, "fillColor": "white", "labelOffset": 18, "symbolSize": 110, "symbolStrokeWidth": 1.2, "labelExpr": "datum.label + '° C'"}}
   }
  },
  {
   "data": {"name": "c"},
   "transform": [{"filter": "datum.s == 'dry1000'"}],
   "mark": {"type": "point", "filled": false, "size": 110, "strokeWidth": 1.2, "opacity": 1},
   "encoding": {
    "x": {"field": "x", "type": "quantitative"},
    "y": {"field": "y", "type": "quantitative"},
    "color": {"field": "s", "type": "nominal", "scale": {"domain": ["dry1000"], "range": ["#2a2ad0"]},
          "legend": {"orient": "none", "legendX": 148, "legendY": -16, "title": null, "padding": 12, "fillColor": "white", "labelOffset": 12, "symbolSize": 110, "symbolStrokeWidth": 1.2, "labelExpr": "datum.label + '°C'"}},
    "shape": {"field": "s", "type": "nominal", "scale": {"domain": ["dry1000"], "range": ["triangle-up"]},
          "legend": {"orient": "none", "legendX": 148, "legendY": -16, "title": null, "padding": 12, "fillColor": "white", "labelOffset": 12, "symbolSize": 110, "symbolStrokeWidth": 1.2, "labelExpr": "datum.label + '°C'"}}
   }
  },
  {
   "data": {"name": "c"},
   "transform": [{"filter": "datum.s == 'dry1100'"}],
   "mark": {"type": "point", "filled": false, "size": 100, "strokeWidth": 1.2, "opacity": 1},
   "encoding": {
    "x": {"field": "x", "type": "quantitative"},
    "y": {"field": "y", "type": "quantitative"},
    "color": {"field": "s", "type": "nominal", "scale": {"domain": ["dry1100"], "range": ["#e82828"]},
          "legend": {"orient": "none", "legendX": 305, "legendY": 15, "title": null, "padding": 4, "fillColor": "white", "labelOffset": 13, "symbolSize": 110, "symbolStrokeWidth": 1.2, "labelExpr": "datum.label + '°C'"}},
    "shape": {"field": "s", "type": "nominal", "scale": {"domain": ["dry1100"], "range": ["circle"]},
          "legend": {"orient": "none", "legendX": 305, "legendY": 15, "title": null, "padding": 4, "fillColor": "white", "labelOffset": 13, "symbolSize": 110, "symbolStrokeWidth": 1.2, "labelExpr": "datum.label + '°C'"}}
   }
  },
  {
   "data": {"values": [{}]},
   "mark": {"type": "text", "fontSize": 20, "align": "left", "baseline": "middle", "color": "#222222"},
   "encoding": {"x": {"datum": 0.209}, "y": {"datum": 8.2e10}, "text": {"value": "(c)"}}
  }
 ],
 "resolve": {"scale": {"color": "independent", "shape": "independent"}}
}
]}
]
}
